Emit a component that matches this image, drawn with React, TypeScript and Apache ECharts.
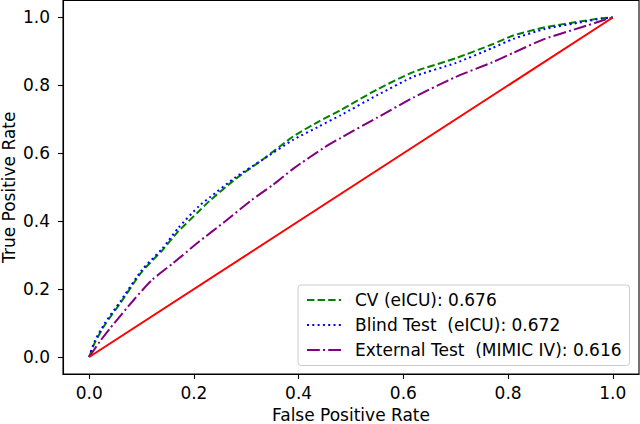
import { useEffect, useRef } from "react";
import * as echarts from "echarts";

// ROC points
const FPR_CV = [0, 0.01, 0.03, 0.06, 0.1, 0.14, 0.17, 0.21, 0.23, 0.28, 0.33, 0.39, 0.44, 0.48, 0.55, 0.62, 0.7, 0.77, 0.81, 0.87, 0.94, 0.98, 1.0];
const TPR_CV = [0, 0.04, 0.095, 0.16, 0.25, 0.315, 0.37, 0.43, 0.46, 0.525, 0.58, 0.65, 0.695, 0.727, 0.788, 0.84, 0.88, 0.921, 0.947, 0.971, 0.989, 0.998, 1.0];

const FPR_BLIND = [0, 0.01, 0.03, 0.06, 0.1, 0.14, 0.17, 0.21, 0.23, 0.28, 0.33, 0.39, 0.44, 0.48, 0.55, 0.62, 0.7, 0.77, 0.81, 0.87, 0.94, 0.98, 1.0];
const TPR_BLIND = [0, 0.045, 0.1, 0.165, 0.255, 0.32, 0.38, 0.445, 0.47, 0.53, 0.58, 0.64, 0.68, 0.712, 0.771, 0.826, 0.866, 0.91, 0.937, 0.966, 0.986, 0.997, 1.0];

const FPR_EXT = [0, 0.02, 0.04, 0.085, 0.12, 0.16, 0.21, 0.26, 0.31, 0.35, 0.39, 0.45, 0.48, 0.55, 0.62, 0.7, 0.77, 0.81, 0.87, 0.94, 0.98, 1.0];
const TPR_EXT = [0, 0.045, 0.085, 0.168, 0.227, 0.276, 0.34, 0.4, 0.462, 0.506, 0.555, 0.618, 0.645, 0.705, 0.765, 0.825, 0.868, 0.896, 0.937, 0.971, 0.991, 1.0];

const DIAG_X = [0, 1];
const DIAG_Y = [0, 1];

const TICKS = [0, 0.2, 0.4, 0.6, 0.8, 1.0];

const NAMES = [
  "CV (eICU): 0.676",
  "Blind Test  (eICU): 0.672",
  "External Test  (MIMIC IV): 0.616",
];

const FONT = "DejaVu Sans";
const FONT_SIZE = 17;

const pairs = (xs: number[], ys: number[]) => xs.map((x, i) => [x, ys[i]]);

const axisCommon = {
  type: "value" as const,
  min: -0.05,
  max: 1.05,
  nameLocation: "middle" as const,
  nameMoveOverlap: false,
  nameTextStyle: { color: "#000", fontSize: FONT_SIZE, fontFamily: FONT },
  axisLine: { show: true, onZero: false, lineStyle: { color: "#000", width: 1.1 } },
  axisTick: {
    show: true,
    inside: false,
    length: 5,
    customValues: TICKS,
    lineStyle: { color: "#000", width: 1.1 },
  },
  axisLabel: {
    customValues: TICKS,
    formatter: (v: number) => v.toFixed(1),
    color: "#000",
    fontSize: FONT_SIZE,
    fontFamily: FONT,
  },
  splitLine: { show: false },
};

export default function App() {
  const ref = useRef<HTMLDivElement | null>(null);

  useEffect(() => {
    document.body.style.margin = "0";
    if (!ref.current) return;
    const chart = echarts.init(ref.current, undefined, { renderer: "svg" });

    chart.setOption({
      animation: false,
      backgroundColor: "#fff",
      textStyle: { fontFamily: FONT },
      grid: {
        left: 63,
        right: 1,
        top: 0.5,
        bottom: 50,
        containLabel: false,
        outerBoundsMode: "none",
        show: true,
        borderColor: "#000",
        borderWidth: 1.1,
      },
      xAxis: {
        ...axisCommon,
        name: "False Positive Rate",
        nameGap: 32,
        axisLabel: { ...axisCommon.axisLabel, margin: 10 },
      },
      yAxis: {
        ...axisCommon,
        name: "True Positive Rate",
        nameGap: 45.5,
        nameRotate: 90,
        axisLabel: { ...axisCommon.axisLabel, margin: 13 },
      },
      legend: {
        data: NAMES,
        orient: "vertical",
        left: 298,
        top: 285,
        padding: [6.5, 8, 7, 8],
        itemWidth: 34,
        itemHeight: 14,
        itemGap: 8,
        itemStyle: { opacity: 0 },
        backgroundColor: "rgba(255,255,255,0.8)",
        borderColor: "#cccccc",
        borderWidth: 1,
        borderRadius: 3,
        textStyle: {
          color: "#000",
          fontSize: FONT_SIZE,
          fontFamily: FONT,
          padding: [0, 0, 0, 9],
        },
      },
      series: [
        {
          name: NAMES[0],
          type: "line",
          data: pairs(FPR_CV, TPR_CV),
          symbol: "none",
          smooth: 0.2,
          itemStyle: { color: "#008000" },
          lineStyle: { color: "#008000", width: 2, type: [7.4, 3.2] },
        },
        {
          name: NAMES[1],
          type: "line",
          data: pairs(FPR_BLIND, TPR_BLIND),
          symbol: "none",
          smooth: 0.2,
          itemStyle: { color: "#0000ff" },
          lineStyle: { color: "#0000ff", width: 2, type: [2, 3.3] },
        },
        {
          name: NAMES[2],
          type: "line",
          data: pairs(FPR_EXT, TPR_EXT),
          symbol: "none",
          smooth: 0.2,
          itemStyle: { color: "#800080" },
          lineStyle: { color: "#800080", width: 2, type: [12.8, 3.2, 2, 3.2] },
        },
        {
          name: "Chance",
          type: "line",
          data: pairs(DIAG_X, DIAG_Y),
          symbol: "none",
          itemStyle: { color: "#ff0000" },
          lineStyle: { color: "#ff0000", width: 2 },
        },
      ],
    });

    return () => chart.dispose();
  }, []);

  return <div ref={ref} style={{ width: 640, height: 424 }} />;
}
